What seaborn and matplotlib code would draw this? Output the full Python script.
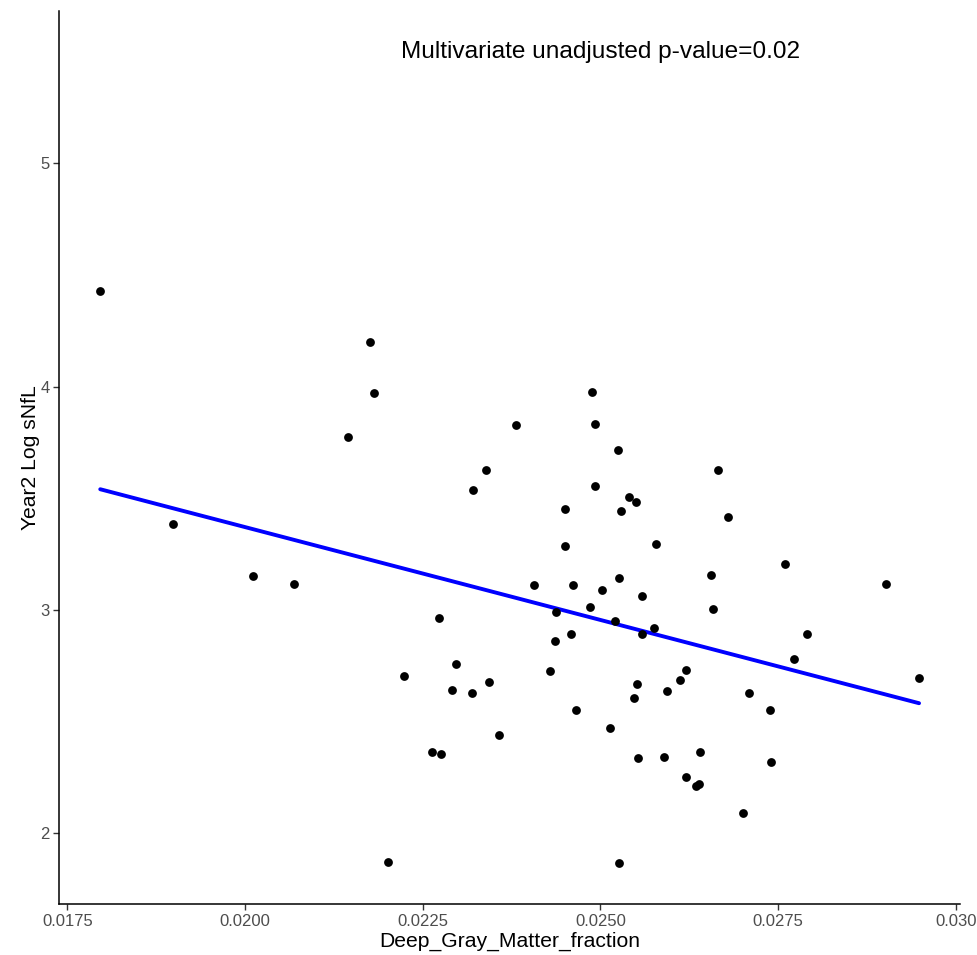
import pandas as pd
import matplotlib
matplotlib.use("Agg")
import matplotlib.pyplot as plt
import seaborn as sns

# Deep gray matter fraction (x) e Year2 log sNfL (y)
deep_gray = [0.017964, 0.021758, 0.021815, 0.021449, 0.023386, 0.023203, 0.018987, 0.020117,
             0.020685, 0.024886, 0.023817, 0.024919, 0.025243, 0.026658, 0.024924, 0.025406,
             0.025505, 0.024502, 0.025294, 0.026795, 0.025782, 0.024502, 0.027597, 0.026560,
             0.025266, 0.024061, 0.024618, 0.025026, 0.025581, 0.029022, 0.024858, 0.026588,
             0.024371, 0.025205, 0.025754, 0.027906, 0.024582, 0.025585, 0.024365, 0.027719,
             0.024295, 0.026204, 0.029482, 0.026115, 0.025510, 0.025932, 0.027094, 0.025472,
             0.024652, 0.027386, 0.025135, 0.025529, 0.025894, 0.026405, 0.027400, 0.026200,
             0.026344, 0.026391, 0.027010, 0.025261, 0.022725, 0.022968, 0.022241, 0.023428,
             0.022916, 0.023189, 0.023569, 0.022631, 0.022761, 0.022007]
log_snfl = [4.429, 4.198, 3.970, 3.776, 3.628, 3.538, 3.386, 3.150,
            3.117, 3.977, 3.827, 3.833, 3.716, 3.625, 3.555, 3.507,
            3.482, 3.453, 3.444, 3.416, 3.296, 3.286, 3.207, 3.155,
            3.144, 3.112, 3.112, 3.090, 3.062, 3.115, 3.011, 3.006,
            2.991, 2.952, 2.920, 2.892, 2.891, 2.891, 2.859, 2.780,
            2.728, 2.730, 2.694, 2.687, 2.668, 2.636, 2.628, 2.604,
            2.550, 2.553, 2.471, 2.338, 2.341, 2.362, 2.320, 2.250,
            2.210, 2.222, 2.092, 1.865, 2.965, 2.758, 2.704, 2.677,
            2.641, 2.629, 2.438, 2.364, 2.353, 1.870]

x_ticks = [0.0175, 0.0200, 0.0225, 0.0250, 0.0275, 0.0300]
x_labels = ["0.0175", "0.0200", "0.0225", "0.0250", "0.0275", "0.030"]
y_ticks = [2, 3, 4, 5]
annot = "Multivariate unadjusted p-value=0.02"

df = pd.DataFrame({"Deep_Gray_Matter_fraction": deep_gray, "Year2 Log sNfL": log_snfl})

sns.set_style("ticks")
plt.rcParams['font.family'] = ['Liberation Sans', 'DejaVu Sans']

fig = plt.figure(figsize=(9.77, 9.55), dpi=100)
ax = fig.add_axes([0.0607, 0.0534, 0.9219, 0.9351])

sns.scatterplot(data=df, x="Deep_Gray_Matter_fraction", y="Year2 Log sNfL", ax=ax,
                color="black", s=40, linewidth=0, zorder=3)
sns.regplot(data=df, x="Deep_Gray_Matter_fraction", y="Year2 Log sNfL", ax=ax,
            scatter=False, ci=None, color="#0000FF", line_kws={"linewidth": 2.8})

ax.text(0.025, 5.5, annot, ha="center", va="center", fontsize=17.6, color="black")

ax.set_xlim(0.017388, 0.030058)
ax.set_ylim(1.683, 5.682)
ax.set_xticks(x_ticks)
ax.set_xticklabels(x_labels)
ax.set_yticks(y_ticks)

ax.set_xlabel("Deep_Gray_Matter_fraction", fontsize=15.2, color="black", labelpad=2)
ax.set_ylabel("Year2 Log sNfL", fontsize=15.2, color="black", labelpad=0)
ax.tick_params(axis="both", labelsize=12, labelcolor="#4D4D4D", color="#333333",
               length=4, width=1.0, pad=3)
for side in ["top", "right"]:
    ax.spines[side].set_visible(False)
for side in ["left", "bottom"]:
    ax.spines[side].set_linewidth(1.1)
    ax.spines[side].set_color("black")

fig.savefig("out.png", dpi=100)
